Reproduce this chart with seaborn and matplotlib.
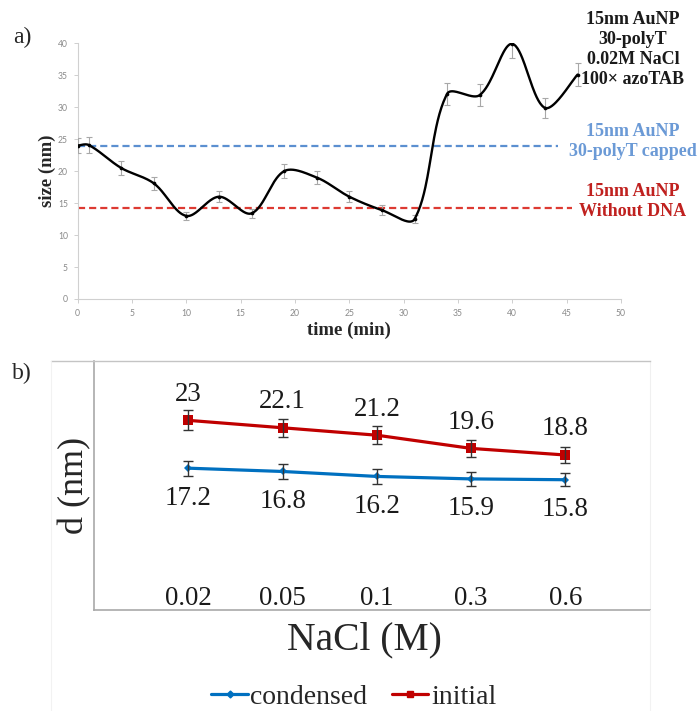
import numpy as np
import pandas as pd
import matplotlib
matplotlib.use("Agg")
import matplotlib.pyplot as plt
import seaborn as sns
from matplotlib.lines import Line2D

# ---------------- data: panel a ----------------
time_min = [0, 1, 4, 7, 10, 13, 16, 19, 22, 25, 28, 31, 34, 37, 40, 43, 46]
size_nm = [24.0, 24.1, 20.5, 18.1, 13.0, 16.0, 13.4, 20.0, 19.0, 16.0, 13.9, 12.5,
           32.1, 31.9, 39.9, 29.9, 35.1]
size_err = [1.2, 1.2, 1.1, 1.0, 0.65, 0.85, 0.7, 1.1, 1.05, 0.85, 0.8, 0.6,
            1.7, 1.7, 2.2, 1.55, 1.85]
x_ticks_a = [0, 5, 10, 15, 20, 25, 30, 35, 40, 45, 50]
y_ticks_a = [0, 5, 10, 15, 20, 25, 30, 35, 40]
ref_labels = ["15nm AuNP\n30-polyT capped", "15nm AuNP\nWithout DNA"]
ref_levels = [24.0, 14.2]
ref_end = [44.2, 45.5]
cond_text = ["15nm AuNP", "30-polyT", "0.02M NaCl", "100\u00d7 azoTAB"]

# ---------------- data: panel b ----------------
nacl_labels = ["0.02", "0.05", "0.1", "0.3", "0.6"]
condensed = [17.2, 16.8, 16.2, 15.9, 15.8]
initial = [23.0, 22.1, 21.2, 19.6, 18.8]
cond_err = [0.9, 0.9, 0.9, 0.85, 0.8]
init_err = [1.2, 1.1, 1.1, 1.0, 1.0]

sns.set_theme(style="white")
plt.rcParams["font.family"] = ["Liberation Serif", "DejaVu Serif"]

W, H = 699, 711
fig = plt.figure(figsize=(W / 100, H / 100), dpi=100)


def fx(px):
    return px / W


def fy(py):
    return 1 - py / H


def smooth(x, y, sx=1.0, sy=1.0, n=40):
    """Excel-like smoothed line: cubic Bezier with chord-length scaled tangents."""
    P = np.column_stack([x, y]).astype(float)
    S = np.array([sx, sy])
    E = np.vstack([P[0], P, P[-1]])
    out = []
    t = np.linspace(0, 1, n)[:, None]
    for i in range(len(P) - 1):
        p0, p1, p2, p3 = E[i], E[i + 1], E[i + 2], E[i + 3]
        d01 = np.linalg.norm((p1 - p0) * S)
        d12 = np.linalg.norm((p2 - p1) * S)
        d23 = np.linalg.norm((p3 - p2) * S)
        f1 = d12 / (d01 + d12) / 3 if d01 > 0 else 1 / 6
        f2 = d12 / (d12 + d23) / 3 if d23 > 0 else 1 / 6
        c1 = p1 + (p2 - p0) * f1
        c2 = p2 - (p3 - p1) * f2
        seg = (1 - t) ** 3 * p1 + 3 * (1 - t) ** 2 * t * c1 + 3 * (1 - t) * t ** 2 * c2 + t ** 3 * p2
        out.append(seg if i == 0 else seg[1:])
    return np.vstack(out)


# ================= panel a =================
axA = fig.add_axes([fx(77.7), fy(299), (621 - 77.7) / W, (299 - 43.3) / H])
axA.set_facecolor("white")

ref_cols = ["#5B8FD0", "#DD3A32"]
for lvl, end, c in zip(ref_levels, ref_end, ref_cols):
    axA.hlines(lvl, 0, end, colors=c, linestyles=(0, (3.2, 1.8)), linewidth=1.6, zorder=2)

axA.errorbar(time_min, size_nm, yerr=size_err, fmt="none", ecolor="#a8a8a8",
             elinewidth=0.8, capsize=2, capthick=0.8, zorder=3)
curve = smooth(time_min, size_nm, sx=10.87, sy=6.39)
sns.lineplot(x=curve[:, 0], y=curve[:, 1], sort=False, estimator=None,
             color="black", linewidth=1.7, ax=axA, zorder=4)
sns.scatterplot(x=time_min, y=size_nm, color="black", s=7, linewidth=0, ax=axA, zorder=5)

axA.set_xlim(0, 50)
axA.set_ylim(0, 40)
axA.set_xticks(x_ticks_a)
axA.set_yticks(y_ticks_a)
axA.tick_params(bottom=True, left=True, length=3, width=0.6, color="#c8c8c8",
                labelsize=6.2, labelcolor="#8a8a8a", pad=4)
for lab in axA.get_xticklabels() + axA.get_yticklabels():
    lab.set_fontfamily(["Lato", "DejaVu Sans"])
for s in ["top", "right"]:
    axA.spines[s].set_visible(False)
for s in ["left", "bottom"]:
    axA.spines[s].set_color("#d0d0d0")
    axA.spines[s].set_linewidth(0.8)

axA.set_xlabel("time (min)", fontsize=13.5, fontweight="bold")
axA.xaxis.set_label_coords(0.5, -0.121)
axA.xaxis.label.set_va("center")
axA.set_ylabel("size (nm)", fontsize=13.5, fontweight="bold")
axA.yaxis.set_label_coords(-0.0565, 0.5)
axA.yaxis.label.set_va("center")

axA.text(51.1, 39.0, "\n".join(cond_text), ha="center", va="center", fontsize=13,
         fontweight="bold", linespacing=1.22, color="#1a1a1a", clip_on=False)
axA.text(51.1, 24.65, ref_labels[0], ha="center", va="center", fontsize=13,
         fontweight="bold", linespacing=1.22, color="#6B9AD6", clip_on=False)
axA.text(51.1, 15.2, ref_labels[1], ha="center", va="center", fontsize=13,
         fontweight="bold", linespacing=1.22, color="#C0211F", clip_on=False)

fig.text(fx(22), fy(37), "a)", ha="center", va="center", fontsize=17)

# ================= panel b =================
axB = fig.add_axes([fx(94.3), fy(610), (650 - 94.3) / W, (610 - 361) / H])
axB.set_facecolor("white")
pos = np.arange(len(nacl_labels))

blue, red = "#0070C0", "#C00000"
axB.errorbar(pos, initial, yerr=init_err, fmt="none", ecolor="#333333",
             elinewidth=1.0, capsize=3.5, capthick=1.0, zorder=5)
axB.errorbar(pos, condensed, yerr=cond_err, fmt="none", ecolor="#333333",
             elinewidth=1.0, capsize=3.5, capthick=1.0, zorder=5)
sns.lineplot(x=pos, y=initial, color=red, marker="s", markersize=6.5,
             markeredgewidth=0, linewidth=2.3, ax=axB, zorder=4)
sns.lineplot(x=pos, y=condensed, color=blue, marker="D", markersize=4.5,
             markeredgewidth=0, linewidth=2.3, ax=axB, zorder=4)

for i, v in enumerate(initial):
    axB.annotate(f"{v:g}", (pos[i], v), xytext=(0, 26), textcoords="offset pixels",
                 ha="center", va="center", fontsize=19.4, color="#1a1a1a")
for i, v in enumerate(condensed):
    axB.annotate(f"{v:g}", (pos[i], v), xytext=(0, -30), textcoords="offset pixels",
                 ha="center", va="center", fontsize=19.4, color="#1a1a1a")

axB.set_xlim(-1, 4.9)
axB.set_ylim(0, 30.2)
axB.set_xticks(pos)
axB.set_xticklabels(nacl_labels)
axB.set_yticks([])
axB.tick_params(axis="x", bottom=False, length=0, pad=-17, labelsize=19.4,
                labelcolor="#1a1a1a")
for s in ["left", "bottom"]:
    axB.spines[s].set_color("#a9a9a9")
    axB.spines[s].set_linewidth(1.2)
axB.spines["top"].set_color("#c4c4c4")
axB.spines["top"].set_linewidth(1.0)
axB.spines["right"].set_color("#f0f0f0")
axB.spines["right"].set_linewidth(0.8)

axB.set_xlabel("NaCl (M)", fontsize=28.5)
axB.xaxis.set_label_coords(0.487, -0.12)
axB.xaxis.label.set_va("center")
axB.set_ylabel("d (nm)", fontsize=26)
axB.yaxis.set_label_coords(-0.0354, 0.5)
axB.yaxis.label.set_va("center")

# chart-area frame lines
fig.add_artist(Line2D([fx(51), fx(94.3)], [fy(361), fy(361)], color="#c4c4c4", lw=1.0))
fig.add_artist(Line2D([fx(51), fx(51)], [fy(361), fy(711)], color="#f2f2f2", lw=0.8))
fig.add_artist(Line2D([fx(650), fx(650)], [fy(610), fy(711)], color="#f2f2f2", lw=0.8))

handles = [Line2D([], [], color=blue, marker="D", markersize=3.5, lw=2.3),
           Line2D([], [], color=red, marker="s", markersize=4.5, lw=2.3)]
fig.legend(handles, ["condensed", "initial"], loc="center",
           bbox_to_anchor=(fx(354), fy(697)), ncol=2, frameon=False, fontsize=20,
           handlelength=1.3, handletextpad=0.1, columnspacing=0.9)

fig.text(fx(22), fy(373), "b)", ha="center", va="center", fontsize=17)

fig.savefig("out.png", dpi=100, facecolor="white")
